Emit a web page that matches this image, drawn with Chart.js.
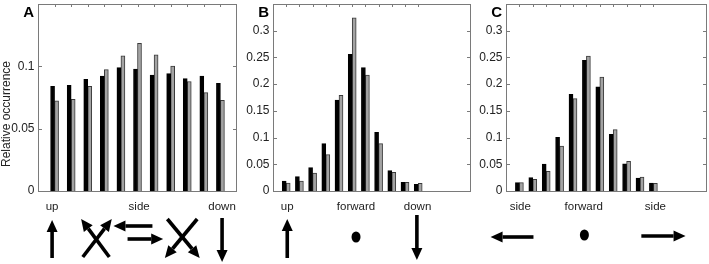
<!DOCTYPE html>
<html>
<head>
<meta charset="utf-8">
<script src="https://cdn.jsdelivr.net/npm/chart.js@4"></script>
<style>
  body { margin: 0; background: #fff; }
  #wrap { position: relative; width: 709px; height: 264px; }
  .panel { position: absolute; top: 0; height: 264px; }
</style>
</head>
<body>
<div id="wrap">
  <div class="panel" style="left:0;width:240px"><canvas id="chartA"></canvas></div>
  <div class="panel" style="left:240px;width:234px"><canvas id="chartB"></canvas></div>
  <div class="panel" style="left:474px;width:235px"><canvas id="chartC"></canvas></div>
</div>
<script>
// bin positions (1..11) for every panel
const positions = [1, 2, 3, 4, 5, 6, 7, 8, 9, 10, 11];

// panel A
const aBlack = [0.084, 0.0848, 0.0896, 0.0921, 0.099, 0.0977, 0.0929, 0.0942, 0.0902, 0.0921, 0.0864];
const aGray  = [0.0723, 0.0736, 0.084, 0.0974, 0.1084, 0.1185, 0.1092, 0.1003, 0.0878, 0.0789, 0.0728];
const aTicks = [0, 0.05, 0.1];

// panel B
const bBlack = [0.0187, 0.0268, 0.0437, 0.0886, 0.170, 0.256, 0.231, 0.110, 0.038, 0.016, 0.0125];
const bGray  = [0.015, 0.0187, 0.0337, 0.068, 0.179, 0.324, 0.217, 0.0886, 0.035, 0.016, 0.0144];

// panel C
const cBlack = [0.0156, 0.025, 0.0505, 0.1005, 0.181, 0.2446, 0.195, 0.106, 0.051, 0.0243, 0.015];
const cGray  = [0.0156, 0.0218, 0.0368, 0.0842, 0.173, 0.2527, 0.213, 0.115, 0.0555, 0.0262, 0.0144];
const bcTicks = [0, 0.05, 0.1, 0.15, 0.2, 0.25, 0.3];

const AXIS = '#7a7a7a';
const FONT = 'Arial, "Liberation Sans", sans-serif';

// thick arrow for the glyphs under the plots
function arrow(ctx, x1, y1, x2, y2) {
  const head = 12, half = 5.5, shaft = 3.6;
  const ang = Math.atan2(y2 - y1, x2 - x1);
  const bx = x2 - head * Math.cos(ang), by = y2 - head * Math.sin(ang);
  ctx.save();
  ctx.strokeStyle = '#000';
  ctx.fillStyle = '#000';
  ctx.lineWidth = shaft;
  ctx.beginPath();
  ctx.moveTo(x1, y1);
  ctx.lineTo(bx, by);
  ctx.stroke();
  ctx.beginPath();
  ctx.moveTo(x2, y2);
  ctx.lineTo(bx + half * Math.sin(ang), by - half * Math.cos(ang));
  ctx.lineTo(bx - half * Math.sin(ang), by + half * Math.cos(ang));
  ctx.closePath();
  ctx.fill();
  ctx.restore();
}

function dot(ctx, x, y) {
  ctx.save();
  ctx.fillStyle = '#000';
  ctx.beginPath();
  ctx.ellipse(x, y, 4.5, 5.5, 0, 0, Math.PI * 2);
  ctx.fill();
  ctx.restore();
}

// matlab style box, inward ticks, labels and glyphs below
const boxPlugin = {
  id: 'box',
  afterDraw(chart, args, opts) {
    const ctx = chart.ctx;
    const { left, right, top, bottom } = chart.chartArea;
    const xs = chart.scales.x, ys = chart.scales.y;
    ctx.save();
    ctx.strokeStyle = AXIS;
    ctx.lineWidth = 1;
    ctx.strokeRect(Math.round(left) + 0.5, Math.round(top) + 0.5, Math.round(right - left) - 1, Math.round(bottom - top));
    ctx.beginPath();
    positions.forEach(p => {
      const x = Math.round(xs.getPixelForValue(p)) + 0.5;
      ctx.moveTo(x, top); ctx.lineTo(x, top + 3);
    });
    opts.yTicks.forEach(v => {
      const y = Math.round(ys.getPixelForValue(v)) + 0.5;
      ctx.moveTo(left, y); ctx.lineTo(left + 4, y);
      ctx.moveTo(right, y); ctx.lineTo(right - 4, y);
    });
    ctx.stroke();
    // panel letter
    ctx.fillStyle = '#000';
    ctx.font = 'bold 15px ' + FONT;
    ctx.textAlign = 'right';
    ctx.textBaseline = 'alphabetic';
    ctx.fillText(opts.letter, left - 4, 17);
    // y title (sits a bit below the axis middle in the original)
    if (opts.yTitle) {
      ctx.save();
      ctx.fillStyle = '#222';
      ctx.font = '12px ' + FONT;
      ctx.textAlign = 'center';
      ctx.textBaseline = 'middle';
      ctx.translate(7, 114);
      ctx.rotate(-Math.PI / 2);
      ctx.fillText(opts.yTitle, 0, 0);
      ctx.restore();
    }
    // direction labels
    ctx.fillStyle = '#222';
    ctx.font = '11.5px ' + FONT;
    ctx.textAlign = 'center';
    ctx.textBaseline = 'middle';
    opts.labels.forEach(([p, t]) => ctx.fillText(t, xs.getPixelForValue(p), 207));
    ctx.restore();
    opts.glyphs(ctx, p => xs.getPixelForValue(p));
  }
};

function makeChart(id, black, gray, xMax, yMax, yTicks, yWidth, padRight, extra) {
  return new Chart(document.getElementById(id), {
    type: 'bar',
    data: {
      labels: positions,
      datasets: [
        { data: black, backgroundColor: '#000', borderColor: '#000', borderWidth: 1, barThickness: 4 },
        { data: gray, backgroundColor: '#a3a3a3', borderColor: '#3a3a3a', borderWidth: 1, barThickness: 4 }
      ]
    },
    options: {
      responsive: true,
      maintainAspectRatio: false,
      animation: false,
      layout: { padding: { top: 4, right: padRight, bottom: 73, left: 0 } },
      plugins: {
        legend: { display: false },
        tooltip: { enabled: false },
        box: Object.assign({ yTicks: yTicks }, extra)
      },
      scales: {
        x: {
          type: 'linear', min: 0, max: xMax, offset: false, display: false
        },
        y: {
          min: 0, max: yMax,
          afterBuildTicks: s => { s.ticks = yTicks.map(v => ({ value: v })); },
          afterFit: s => { s.width = yWidth; s.paddingTop = 0; s.paddingBottom = 0; },
          border: { display: false },
          grid: { display: false, drawTicks: false },
          ticks: {
            padding: 3.5,
            color: '#222',
            font: { family: FONT, size: 12 },
            callback: v => String(+v.toFixed(3))
          }
        }
      }
    },
    plugins: [boxPlugin]
  });
}

makeChart('chartA', aBlack, aGray, 12, 0.15, aTicks, 38, 3, {
  letter: 'A',
  yTitle: 'Relative occurrence',
  labels: [[0.85, 'up'], [6.1, 'side'], [11.1, 'down']],
  glyphs: (ctx, px) => {
    arrow(ctx, px(0.85), 258, px(0.85), 220);
    // first cross, heads pointing up
    arrow(ctx, px(4.3), 257, px(2.6), 219);
    arrow(ctx, px(2.7), 257, px(4.45), 219);
    // side pair
    arrow(ctx, px(6.9), 226, px(4.55), 226);
    arrow(ctx, px(5.4), 239, px(7.55), 239);
    // second cross, heads pointing down
    arrow(ctx, px(7.8), 219, px(9.75), 258);
    arrow(ctx, px(9.6), 219, px(7.65), 258);
    arrow(ctx, px(11.1), 218, px(11.1), 262);
  }
});

makeChart('chartB', bBlack, bGray, 15, 0.35, bcTicks, 33, 3, {
  letter: 'B',
  labels: [[1.08, 'up'], [6.29, 'forward'], [10.95, 'down']],
  glyphs: (ctx, px) => {
    arrow(ctx, px(1.08), 258, px(1.08), 219);
    dot(ctx, px(6.29), 237);
    arrow(ctx, px(10.9), 215, px(10.9), 260);
  }
});

makeChart('chartC', cBlack, cGray, 15, 0.35, bcTicks, 32, 2, {
  letter: 'C',
  labels: [[1.07, 'side'], [5.8, 'forward'], [11.15, 'side']],
  glyphs: (ctx, px) => {
    arrow(ctx, px(2.05), 237, px(-1.15), 237);
    dot(ctx, px(5.85), 235);
    arrow(ctx, px(10.1), 236, px(13.4), 236);
  }
});
</script>
</body>
</html>
